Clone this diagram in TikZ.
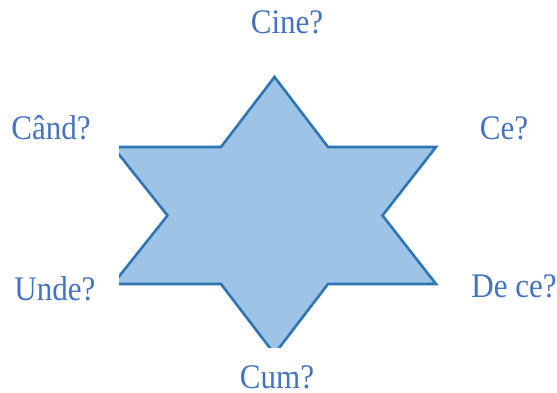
\documentclass[tikz,border=0pt]{standalone}
\usepackage{fontspec}
\setmainfont{Liberation Serif}[FakeStretch=0.9]
\definecolor{txtblue}{HTML}{4472C4}
\definecolor{starfill}{HTML}{9DC3E6}
\definecolor{stardraw}{HTML}{2E75B6}
\begin{document}
\begin{tikzpicture}[x=1pt,y=-1pt,
  lbl/.style={text=txtblue,font=\fontsize{34.5}{40}\selectfont,inner sep=0pt,anchor=base},
  starshape/.style={fill=starfill,draw=stardraw,line width=2.6pt,line join=miter}]
\useasboundingbox (0,0) rectangle (557,393);
\begin{scope}
\clip (119,0) rectangle (557,347);
\draw[starshape] (274.5,77) coordinate (top) -- (328,147) -- (436,147) coordinate (rut)
  -- (382.5,215.5) -- (436,284) coordinate (rlt) -- (328,284) -- (274.5,354) coordinate (bot)
  -- (221,284) -- (113,284) coordinate (llt) -- (167.5,215.5) -- (113,147) coordinate (lut)
  -- (221,147) -- cycle;
\end{scope}
\node[lbl] (cine) at (287,34) {Cine?};
\node[lbl] (cand) at (51,140) {Când?};
\node[lbl] (ce) at (504,139.5) {Ce?};
\node[lbl] (unde) at (55,300) {Unde?};
\node[lbl] (dece) at (514,297.5) {De ce?};
\node[lbl] (cum) at (277,388) {Cum?};
\end{tikzpicture}
\end{document}
